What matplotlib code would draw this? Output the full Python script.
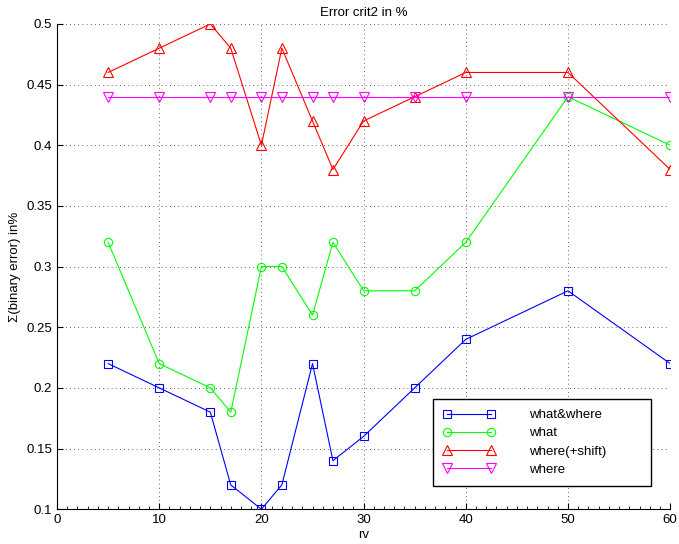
import matplotlib
matplotlib.use('Agg')
import matplotlib.pyplot as plt
from matplotlib.ticker import MultipleLocator

plt.rcParams['font.family'] = ['Liberation Sans', 'DejaVu Sans']
plt.rcParams['font.size'] = 9.5

# data
rv = [5, 10, 15, 17, 20, 22, 25, 27, 30, 35, 40, 50, 60]
what_where = [0.22, 0.20, 0.18, 0.12, 0.10, 0.12, 0.22, 0.14, 0.16, 0.20, 0.24, 0.28, 0.22]
what = [0.32, 0.22, 0.20, 0.18, 0.30, 0.30, 0.26, 0.32, 0.28, 0.28, 0.32, 0.44, 0.40]
where_shift = [0.46, 0.48, 0.50, 0.48, 0.40, 0.48, 0.42, 0.38, 0.42, 0.44, 0.46, 0.46, 0.38]
where = [0.44] * 13

fig = plt.figure(figsize=(6.79, 5.44), dpi=100)
ax = fig.add_axes([0.084, 0.064, 0.903, 0.892])

kw = dict(markerfacecolor='none', linewidth=0.8, markeredgewidth=0.8)
ax.plot(rv, what_where, color='#0000ff', marker='s', markersize=5.5, label='what&where', **kw)
ax.plot(rv, what, color='#00ff00', marker='o', markersize=6, label='what', **kw)
ax.plot(rv, where_shift, color='#ff0000', marker='^', markersize=7, label='where(+shift)', **kw)
ax.plot(rv, where, color='#ff00ff', marker='v', markersize=7, label='where', **kw)

ax.set_xlim(0, 60)
ax.set_ylim(0.1, 0.5)
ax.set_xticks(range(0, 61, 10))
ax.set_yticks([0.1, 0.15, 0.2, 0.25, 0.3, 0.35, 0.4, 0.45, 0.5])
ax.set_yticklabels(['0.1', '0.15', '0.2', '0.25', '0.3', '0.35', '0.4', '0.45', '0.5'])
ax.xaxis.set_minor_locator(MultipleLocator(1))
ax.tick_params(which='both', direction='in')
ax.tick_params(which='major', length=4)
ax.tick_params(which='minor', length=2)
ax.spines['top'].set_visible(False)
ax.spines['right'].set_visible(False)
ax.grid(True, which='major', linestyle=(0, (1, 4)), color='#333333', linewidth=0.6)

ax.set_title('Error crit2 in %', fontsize=9.5, pad=6)
ax.set_xlabel('rv', labelpad=2)
ax.set_ylabel('Σ(binary error) in%', labelpad=4)

leg = ax.legend(loc='lower left', bbox_to_anchor=(0.613, 0.047, 0.356, 0.194), mode='expand',
                borderaxespad=0, numpoints=2, handlelength=3.9, handletextpad=2.6,
                fancybox=False, framealpha=1, edgecolor='black', borderpad=0.8,
                labelspacing=0.45)
leg.get_frame().set_linewidth(1.0)

fig.savefig('out.png', dpi=100)
